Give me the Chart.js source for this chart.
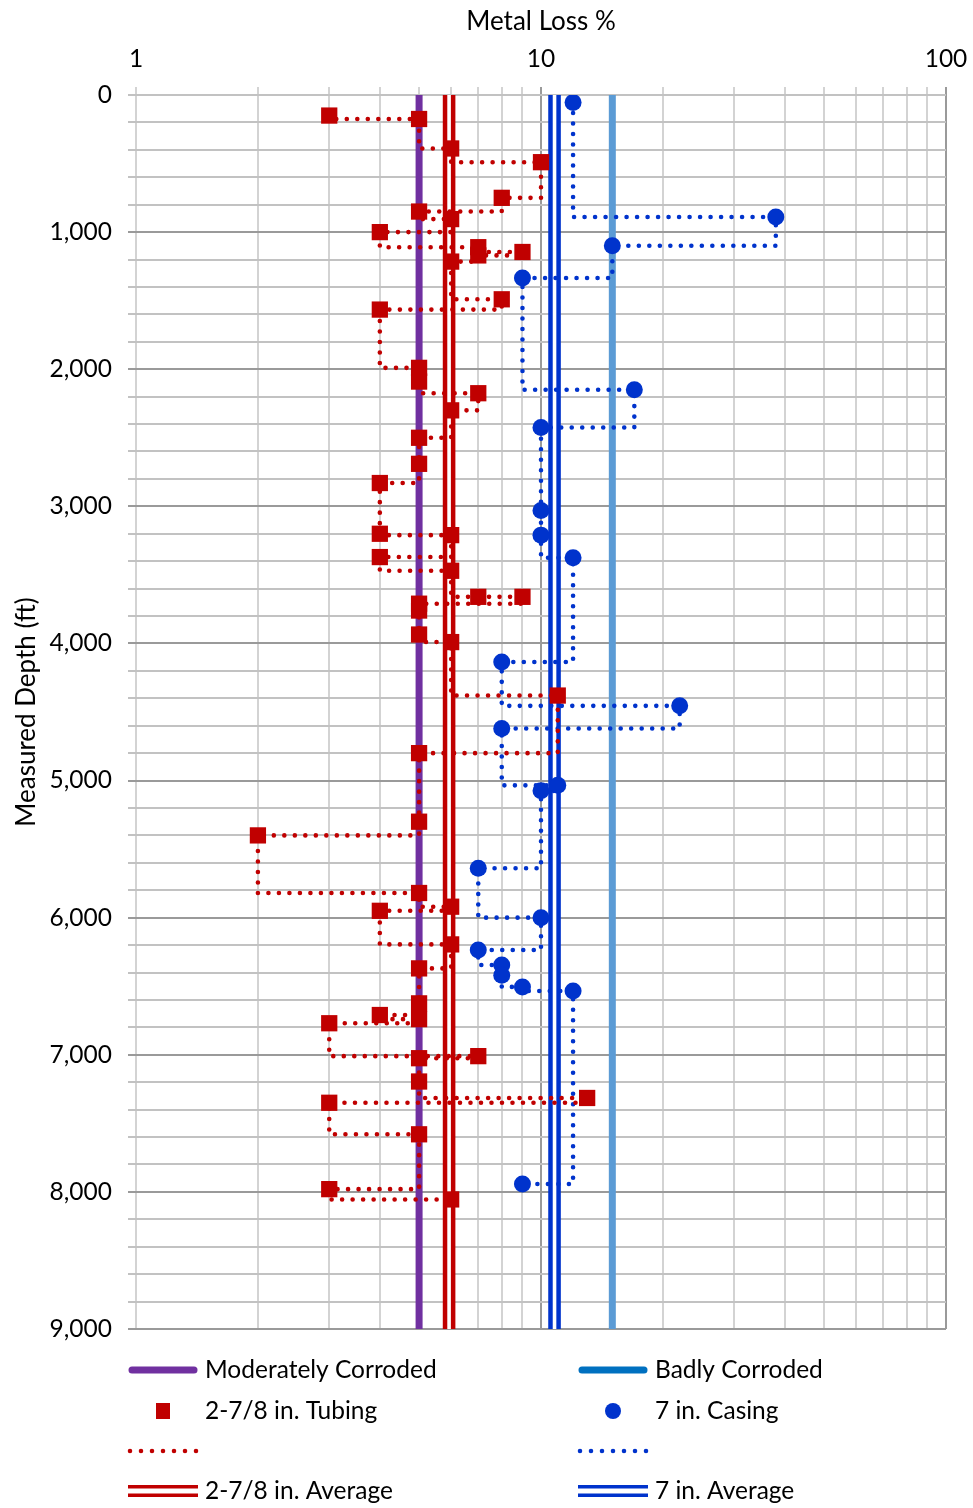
<!DOCTYPE html>
<html lang="en">
<head>
    <meta charset="UTF-8">
    <title>Metal Loss vs Measured Depth</title>
    <script src="https://cdn.jsdelivr.net/npm/chart.js"></script>
    <style>
        body {
            margin: 0;
            padding: 0;
            background: white;
        }
        .chart-box {
            position: relative;
            width: 973px;
            height: 1508px;
        }
    </style>
</head>
<body>

<div class="chart-box">
    <canvas id="lossChart"></canvas>
</div>

<script>
    // 2-7/8 in. tubing readings (metal loss %, measured depth ft)
    const tubingLoss = [3, 5, 6, 10, 8, 5, 6, 4, 7, 9, 7, 6, 8, 4, 5, 5, 7, 6, 5, 5,
                        4, 4, 6, 4, 6, 7, 9, 5, 5, 5, 6, 11, 5, 5, 2, 5, 6, 4, 6, 5,
                        5, 4, 5, 3, 7, 5, 5, 13, 3, 5, 3, 6];
    const tubingDepth = [150, 175, 390, 490, 750, 850, 905, 1000, 1110, 1145, 1170, 1215, 1490, 1565, 1990, 2090, 2175, 2300, 2500, 2690,
                         2830, 3200, 3210, 3370, 3470, 3660, 3660, 3710, 3760, 3935, 3990, 4380, 4800, 5300, 5400, 5820, 5920, 5950, 6195, 6370,
                         6625, 6710, 6740, 6770, 7010, 7025, 7195, 7315, 7350, 7580, 7980, 8055];

    // 7 in. casing readings
    const casingLoss = [12, 38, 15, 9, 17, 10, 10, 10, 12, 8, 22, 8, 11, 10, 7, 10, 7, 8, 8, 9, 12, 9];
    const casingDepth = [55, 890, 1100, 1335, 2150, 2425, 3030, 3210, 3375, 4135, 4455, 4620, 5035, 5075, 5640, 6000, 6236, 6345, 6420, 6505, 6535, 7943];

    // reference lines
    const moderateLoss = 5;
    const badLoss = 15;
    const tubingAvg = 5.93;
    const casingAvg = 10.8;
    const depthRange = [0, 9000];

    // axis ticks
    const lossTicks = [1, 2, 3, 4, 5, 6, 7, 8, 9, 10, 20, 30, 40, 50, 60, 70, 80, 90, 100];
    const lossLabels = [1, 10, 100];

    const RED = '#C00000';
    const BLUE = '#0033CC';
    const FONT = 'Lato, "Open Sans", sans-serif';

    function pairs(xs, ys) {
        return xs.map((x, i) => ({ x: x, y: ys[i] }));
    }

    function vline(v) {
        return depthRange.map(d => ({ x: v, y: d }));
    }

    function refLine(label, v, color, width, order) {
        return {
            label: label,
            data: vline(v),
            showLine: true,
            borderColor: color,
            borderWidth: width,
            pointRadius: 0,
            order: order
        };
    }

    // draws the legend under the plot in two columns
    const legendPlugin = {
        id: 'twoColLegend',
        afterDraw(chart) {
            const ctx = chart.ctx;
            const cols = [128, 578];
            const rows = [1370, 1411, 1451, 1491];
            const w = 70;
            ctx.save();
            ctx.font = '24.5px ' + FONT;
            ctx.fillStyle = '#000';
            ctx.textBaseline = 'middle';

            function solid(x, y, color) {
                ctx.strokeStyle = color;
                ctx.lineWidth = 7;
                ctx.lineCap = 'round';
                ctx.setLineDash([]);
                ctx.beginPath();
                ctx.moveTo(x + 4, y);
                ctx.lineTo(x + w - 4, y);
                ctx.stroke();
            }
            function dotted(x, y, color) {
                ctx.strokeStyle = color;
                ctx.lineWidth = 4.6;
                ctx.lineCap = 'round';
                ctx.setLineDash([0, 11]);
                ctx.beginPath();
                ctx.moveTo(x + 2, y);
                ctx.lineTo(x + w - 1, y);
                ctx.stroke();
                ctx.setLineDash([]);
            }
            function double(x, y, color) {
                ctx.strokeStyle = color;
                ctx.lineWidth = 3.4;
                ctx.lineCap = 'butt';
                [-4.2, 4.2].forEach(off => {
                    ctx.beginPath();
                    ctx.moveTo(x, y + off);
                    ctx.lineTo(x + w, y + off);
                    ctx.stroke();
                });
            }

            solid(cols[0], rows[0], '#7030A0');
            solid(cols[1], rows[0], '#0070C0');

            ctx.fillStyle = RED;
            ctx.fillRect(cols[0] + 28, rows[1] - 8, 14, 16);
            ctx.fillStyle = BLUE;
            ctx.beginPath();
            ctx.ellipse(cols[1] + 35, rows[1], 8, 8, 0, 0, Math.PI * 2);
            ctx.fill();

            dotted(cols[0], rows[2], RED);
            dotted(cols[1], rows[2], BLUE);

            double(cols[0], rows[3], RED);
            double(cols[1], rows[3], BLUE);

            ctx.fillStyle = '#000';
            ctx.fillText('Moderately Corroded', cols[0] + 77, rows[0]);
            ctx.fillText('Badly Corroded', cols[1] + 77, rows[0]);
            ctx.fillText('2-7/8 in. Tubing', cols[0] + 77, rows[1]);
            ctx.fillText('7 in. Casing', cols[1] + 77, rows[1]);
            ctx.fillText('2-7/8 in. Average', cols[0] + 77, rows[3]);
            ctx.fillText('7 in. Average', cols[1] + 77, rows[3]);
            ctx.restore();
        }
    };

    Chart.defaults.font.family = FONT;
    Chart.defaults.font.size = 24.5;
    Chart.defaults.color = '#000';

    const ctx = document.getElementById('lossChart').getContext('2d');
    const lossChart = new Chart(ctx, {
        type: 'scatter',
        data: {
            datasets: [
                {
                    label: '2-7/8 in. Tubing',
                    data: pairs(tubingLoss, tubingDepth),
                    showLine: true,
                    stepped: 'after',
                    borderColor: RED,
                    borderWidth: 4.6,
                    borderDash: [0, 10.5],
                    borderCapStyle: 'round',
                    pointStyle: 'rect',
                    pointRadius: 11.5,
                    pointBackgroundColor: RED,
                    pointBorderWidth: 0,
                    order: 1
                },
                {
                    label: '7 in. Casing',
                    data: pairs(casingLoss, casingDepth),
                    showLine: true,
                    stepped: 'after',
                    borderColor: BLUE,
                    borderWidth: 4.6,
                    borderDash: [0, 10.5],
                    borderCapStyle: 'round',
                    pointStyle: 'circle',
                    pointRadius: 8.5,
                    pointBackgroundColor: BLUE,
                    pointBorderWidth: 0,
                    order: 2
                },
                // double lines: a wide coloured stroke with a white core
                refLine('tubing avg core', tubingAvg, '#fff', 3.6, 3),
                refLine('2-7/8 in. Average', tubingAvg, RED, 12.6, 4),
                refLine('casing avg core', casingAvg, '#fff', 3.6, 3),
                refLine('7 in. Average', casingAvg, BLUE, 12.6, 4),
                refLine('Moderately Corroded', moderateLoss, '#7030A0', 7, 6),
                refLine('Badly Corroded', badLoss, '#5B9BD5', 7, 6)
            ]
        },
        options: {
            responsive: true,
            maintainAspectRatio: false,
            animation: false,
            layout: {
                padding: { top: 0, left: 0, right: 27, bottom: 179 }
            },
            plugins: {
                legend: { display: false },
                tooltip: { enabled: false }
            },
            scales: {
                x: {
                    type: 'logarithmic',
                    position: 'top',
                    min: 1,
                    max: 100,
                    afterBuildTicks: s => { s.ticks = lossTicks.map(v => ({ value: v })); },
                    afterFit: s => {
                        s.height = 95;
                        s.paddingLeft = 0;
                        s.paddingRight = 0;
                    },
                    border: { display: false },
                    grid: {
                        lineWidth: 2,
                        tickLength: 8,
                        color: c => (c.tick && (c.tick.value === 10 || c.tick.value === 100)) ? '#9a9a9a' : '#d3d3d3'
                    },
                    ticks: {
                        autoSkip: false,
                        maxRotation: 0,
                        padding: 13,
                        callback: v => lossLabels.includes(v) ? String(v) : ''
                    },
                    title: {
                        display: true,
                        text: 'Metal Loss %',
                        font: { size: 26 },
                        padding: { top: 6, bottom: 0 }
                    }
                },
                y: {
                    reverse: true,
                    min: depthRange[0],
                    max: depthRange[1],
                    afterFit: s => { s.width = 136; },
                    border: { display: false },
                    grid: {
                        lineWidth: 2,
                        tickLength: 8,
                        color: c => (c.tick && c.tick.value > 0 && c.tick.value % 1000 === 0) ? '#9a9a9a' : '#c2c2c2'
                    },
                    ticks: {
                        stepSize: 200,
                        autoSkip: false,
                        padding: 16,
                        callback: v => v % 1000 === 0 ? v.toLocaleString('en-US') : ''
                    },
                    title: {
                        display: true,
                        text: 'Measured Depth (ft)',
                        font: { size: 26 },
                        padding: { top: 11, bottom: 0 }
                    }
                }
            }
        },
        plugins: [legendPlugin]
    });
</script>

</body>
</html>
